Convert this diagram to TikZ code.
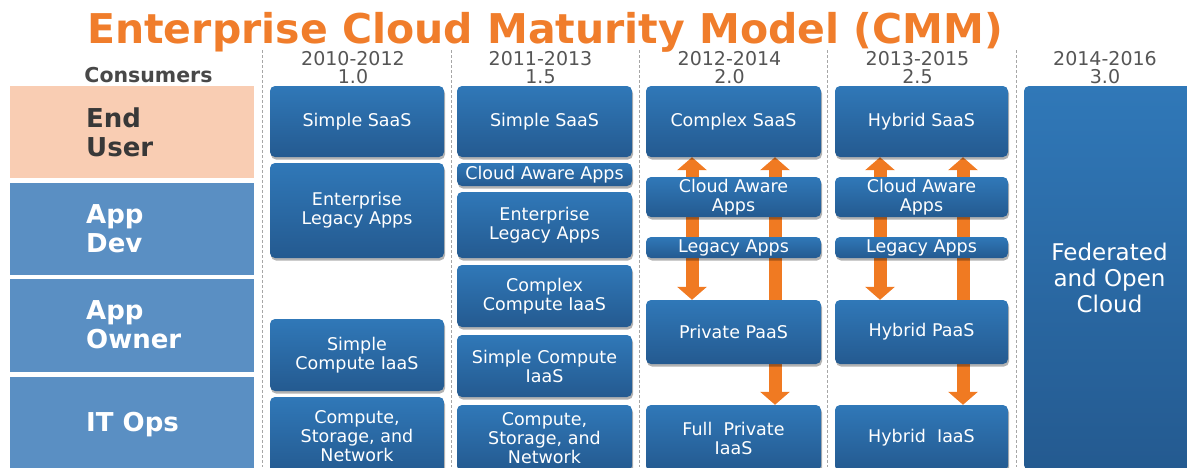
\documentclass[tikz,border=0pt]{standalone}
\usepackage{fontspec}
\setmainfont{DejaVu Sans}
\usetikzlibrary{arrows.meta,shadows}
\definecolor{ttlorange}{HTML}{F07D2B}
\definecolor{blktop}{HTML}{3078B8}
\definecolor{blkbot}{HTML}{245A90}
\definecolor{panelblue}{HTML}{5A8FC3}
\definecolor{panelpeach}{HTML}{F9CDB3}
\definecolor{flowor}{HTML}{F07A22}
\definecolor{txtgray}{HTML}{555555}
\pgfdeclarelayer{back}
\pgfsetlayers{back,main}
\begin{document}
\begin{tikzpicture}[x=1pt,y=-1pt,line join=round]

		\tikzset{blk/.style={rectangle, rounded corners=5pt, top color=blktop, bottom color=blkbot, draw=none,
				text=white, align=center, inner sep=0pt, minimum width=175pt,
				font=\fontsize{17.5}{19}\selectfont,
				drop shadow={shadow xshift=1pt, shadow yshift=-2.5pt, opacity=.3, fill=black}},
			panel/.style={rectangle, fill=panelblue, draw=none, minimum width=244pt, inner sep=0pt},
			panellbl/.style={anchor=west, align=left, inner sep=0pt, text=white,
				font=\fontsize{26}{29}\selectfont\bfseries},
			yearlbl/.style={anchor=base, inner sep=0pt, text=txtgray, font=\fontsize{19}{20}\selectfont},
			flow/.style={draw=flowor, line width=13pt, line cap=butt},
			tip/.tip={Triangle[width=29pt, length=13pt]}}

		\useasboundingbox (0,0) rectangle (1187,467);
		\clip (0,0) rectangle (1187,467);

		\node[anchor=base west, inner sep=0pt, text=ttlorange, font=\fontsize{41}{42}\selectfont\bfseries]
			(ttl) at (87,43) {Enterprise Cloud Maturity Model (CMM)};
		\node[inner sep=0pt, text=txtgray!85!black, font=\fontsize{20.5}{21}\selectfont\bfseries]
			(cons) at (148.5,75) {Consumers};

		\foreach \x in {262,451,639,827,1016}
		\draw[gray!70, dashed, dash pattern=on 3pt off 2pt] (\x,50)--(\x,467);

		\foreach \cx/\yr/\ver [count=\i] in {353/2010-2012/1.0, 540.5/2011-2013/1.5, 729.5/2012-2014/2.0,
				917.5/2013-2015/2.5, 1105/2014-2016/3.0}
		{
		\node[yearlbl] (yr\i) at (\cx,65) {\yr};
		\node[yearlbl] (ver\i) at (\cx,83) {\ver};
		}

		\node[panel, fill=panelpeach, minimum height=92pt] (enduser) at (132,132) {};
		\node[panel, minimum height=92pt] (appdev) at (132,229) {};
		\node[panel, minimum height=93pt] (appowner) at (132,325.5) {};
		\node[panel, minimum height=95pt] (itops) at (132,424.5) {};
		\node[panellbl, text=black!78] (enduserlbl) at (86,132.6) {End\\User};
		\node[panellbl] (appdevlbl) at (86,228.5) {App\\Dev};
		\node[panellbl] (appownerlbl) at (86,325) {App\\Owner};
		\node[panellbl] (itopslbl) at (86,425) {IT Ops};

		\node[blk, minimum width=174pt, minimum height=71pt] (ssaasA) at (357,121.5) {Simple SaaS};
		\node[blk, minimum width=174pt, minimum height=95pt] (elaA) at (357,210.5) {Enterprise\\Legacy Apps};
		\node[blk, minimum width=174pt, minimum height=72pt] (sciA) at (357,355) {Simple\\Compute IaaS};
		\node[blk, minimum width=174pt, minimum height=78pt] (csnA) at (357,436) {Compute,\\Storage, and\\Network};

		\node[blk, minimum height=71pt] (ssaasB) at (544.5,121.5) {Simple SaaS};
		\node[blk, minimum height=23pt] (caaB) at (544.5,174.5) {Cloud Aware Apps};
		\node[blk, minimum height=66pt] (elaB) at (544.5,225) {Enterprise\\Legacy Apps};
		\node[blk, minimum height=62pt] (cciB) at (544.5,296) {Complex\\Compute IaaS};
		\node[blk, minimum height=62pt] (sciB) at (544.5,366) {Simple Compute\\IaaS};
		\node[blk, minimum height=66pt] (csnB) at (544.5,438) {Compute,\\Storage, and\\Network};

		\node[blk, minimum height=71pt] (csaas) at (733.5,121.5) {Complex SaaS};
		\node[blk, minimum height=40pt] (caaC) at (733.5,197) {Cloud Aware\\Apps};
		\node[blk, minimum height=21pt] (laC) at (733.5,247.5) {Legacy Apps};
		\node[blk, minimum height=64pt] (ppaas) at (733.5,332) {Private PaaS};
		\node[blk, minimum height=66pt] (fpiaas) at (733.5,438) {Full\ \ Private\\IaaS};

		\node[blk, minimum width=173pt, minimum height=71pt] (hsaas) at (921.5,121.5) {Hybrid SaaS};
		\node[blk, minimum width=173pt, minimum height=40pt] (caaD) at (921.5,197) {Cloud Aware\\Apps};
		\node[blk, minimum width=173pt, minimum height=21pt] (laD) at (921.5,247.5) {Legacy Apps};
		\node[blk, minimum width=173pt, minimum height=64pt] (hpaas) at (921.5,332) {Hybrid PaaS};
		\node[blk, minimum width=173pt, minimum height=66pt] (hiaas) at (921.5,438) {Hybrid\ \ IaaS};

		\node[blk, minimum width=171pt, minimum height=384pt, font=\fontsize{23}{26}\selectfont]
			(fedcloud) at (1109.5,278) {Federated\\and Open\\Cloud};

		\begin{pgfonlayer}{back}
		\draw[flow, tip-tip] ([xshift=-41.5pt]csaas.south) -- ([xshift=-41.5pt]ppaas.north);
		\draw[flow, -tip] ([xshift=41.5pt]ppaas.north) -- ([xshift=41.5pt]csaas.south);
		\draw[flow, -tip] ([xshift=41.5pt]ppaas.south) -- ([xshift=41.5pt]fpiaas.north);
		\draw[flow, tip-tip] ([xshift=-41.5pt]hsaas.south) -- ([xshift=-41.5pt]hpaas.north);
		\draw[flow, -tip] ([xshift=41.5pt]hpaas.north) -- ([xshift=41.5pt]hsaas.south);
		\draw[flow, -tip] ([xshift=41.5pt]hpaas.south) -- ([xshift=41.5pt]hiaas.north);
		\end{pgfonlayer}
		\end{tikzpicture}
\end{document}
